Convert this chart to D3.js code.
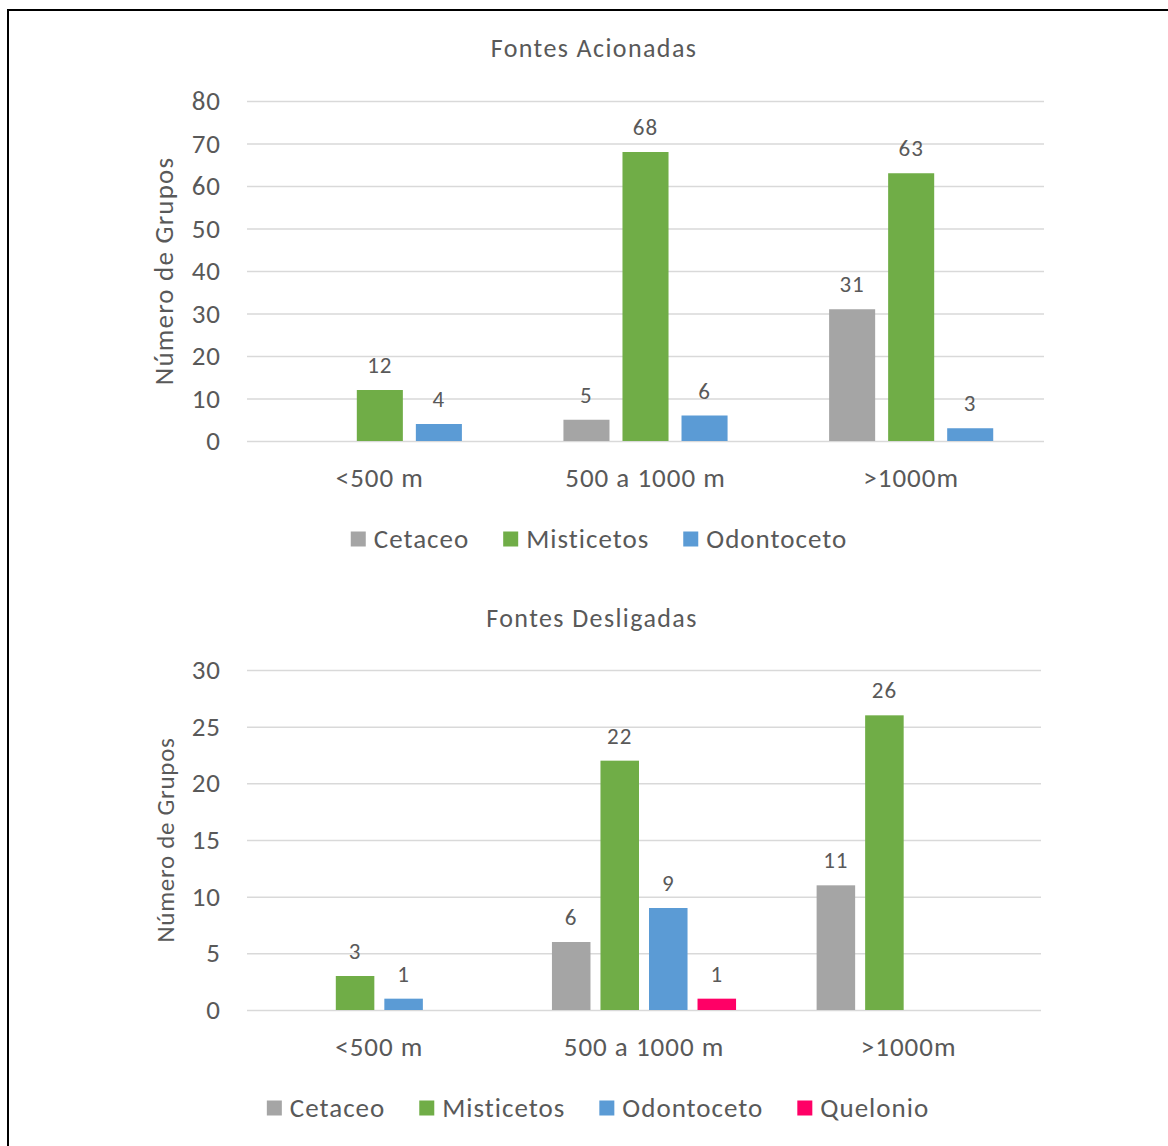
<!DOCTYPE html>
<html>
<head>
<meta charset="utf-8">
<script src="https://cdn.jsdelivr.net/npm/d3@7"></script>
<style>
  html, body { margin: 0; padding: 0; background: #fff; }
  svg text { font-family: Calibri, Carlito, Lato, sans-serif; fill: #595959; }
</style>
</head>
<body>
<svg id="chart" width="1168" height="1146"></svg>
<script>
// Distance classes shared by both panels
const categories = ["<500 m", "500 a 1000 m", ">1000m"];

// Panel 1: sources on
const seriesOn = ["Cetaceo", "Misticetos", "Odontoceto"];
const cetaceoOn = [0, 5, 31];
const misticetosOn = [12, 68, 63];
const odontocetoOn = [4, 6, 3];
const ticksOn = [0, 10, 20, 30, 40, 50, 60, 70, 80];

// Panel 2: sources off
const seriesOff = ["Cetaceo", "Misticetos", "Odontoceto", "Quelonio"];
const cetaceoOff = [0, 6, 11];
const misticetosOff = [3, 22, 26];
const odontocetoOff = [1, 9, 0];
const quelonioOff = [0, 1, 0];
const ticksOff = [0, 5, 10, 15, 20, 25, 30];

const colors = {
  "Cetaceo": "#A5A5A5",
  "Misticetos": "#70AD47",
  "Odontoceto": "#5B9BD5",
  "Quelonio": "#FF0066"
};

const FONT = "Calibri, Carlito, Lato, sans-serif";
const svg = d3.select("#chart");

// outer frame
svg.append("rect")
  .attr("x", 8).attr("y", 10)
  .attr("width", 1170).attr("height", 1150)
  .attr("fill", "none").attr("stroke", "#000").attr("stroke-width", 2);

function styleText(sel, size, spacing) {
  sel.attr("font-size", size)
    .attr("fill", "#595959")
    .style("font-family", FONT)
    .style("letter-spacing", spacing + "px");
}

function drawPanel(opt) {
  const g = svg.append("g");
  const x0 = d3.scaleBand().domain(categories).range([opt.left, opt.right]).padding(0);
  const x1 = d3.scaleBand().domain(opt.series)
    .range([0, x0.bandwidth()])
    .paddingInner(opt.barGap)
    .paddingOuter(opt.groupPad);
  const y = d3.scaleLinear().domain([0, d3.max(opt.ticks)]).range([opt.bottom, opt.top]);

  // title
  g.append("text")
    .attr("x", opt.titleX).attr("y", opt.titleY)
    .attr("text-anchor", "middle")
    .call(styleText, 26, 1.4)
    .text(opt.title);

  // gridlines
  g.append("g")
    .attr("transform", `translate(${opt.left},0)`)
    .call(d3.axisLeft(y).tickValues(opt.ticks).tickSize(-(opt.right - opt.left)).tickFormat(""))
    .call(a => a.select(".domain").remove())
    .call(a => a.selectAll("line").attr("stroke", "#D9D9D9").attr("stroke-width", 1.5));

  // y tick labels
  g.append("g")
    .attr("transform", `translate(${opt.left - 26},0)`)
    .call(d3.axisLeft(y).tickValues(opt.ticks).tickSize(0).tickPadding(0))
    .call(a => a.select(".domain").remove())
    .call(a => a.selectAll("text").call(styleText, 27, 1));

  // y axis title
  g.append("text")
    .attr("transform", `translate(${opt.yTitleX},${(opt.top + opt.bottom) / 2}) rotate(-90)`)
    .attr("text-anchor", "middle")
    .call(styleText, opt.yTitleSize, opt.yTitleSpacing)
    .text("Número de Grupos");

  // category labels
  g.append("g")
    .attr("transform", `translate(0,${opt.bottom + 43})`)
    .call(d3.axisBottom(x0).tickSize(0).tickPadding(0))
    .call(a => a.select(".domain").remove())
    .call(a => a.selectAll("text").call(styleText, 27, 1).attr("dy", "0.1em"));

  // bars
  const rows = categories.map((c, i) => ({
    cat: c,
    vals: opt.series.map((s, k) => ({ s, v: opt.values[k][i] }))
  }));
  const groups = g.selectAll(".grp").data(rows).join("g")
    .attr("transform", d => `translate(${x0(d.cat)},0)`);
  groups.selectAll("rect").data(d => d.vals.filter(e => e.v > 0)).join("rect")
    .attr("x", e => x1(e.s))
    .attr("width", x1.bandwidth())
    .attr("y", e => y(e.v))
    .attr("height", e => y(0) - y(e.v))
    .attr("fill", e => colors[e.s]);
  groups.selectAll("text.lbl").data(d => d.vals.filter(e => e.v > 0)).join("text")
    .attr("class", "lbl")
    .attr("x", e => x1(e.s) + x1.bandwidth() / 2)
    .attr("y", e => y(e.v) - 17)
    .attr("text-anchor", "middle")
    .call(styleText, 23, 1)
    .text(e => e.v);

  // legend
  const leg = g.append("g").attr("transform", `translate(0,${opt.legendY})`);
  const items = leg.selectAll("g").data(opt.series).join("g");
  items.append("rect")
    .attr("width", 15).attr("height", 15).attr("y", -7.5)
    .attr("fill", s => colors[s]);
  items.append("text")
    .attr("x", 23).attr("dy", "0.35em")
    .call(styleText, 27, 1)
    .text(s => s);
  const widths = [];
  items.each(function () {
    widths.push(23 + this.querySelector("text").getComputedTextLength());
  });
  const gap = 34;
  const total = d3.sum(widths) + gap * (widths.length - 1);
  let cx = opt.legendCenter - total / 2;
  items.attr("transform", (d, i) => {
    const t = `translate(${cx},0)`;
    cx += widths[i] + gap;
    return t;
  });
}

drawPanel({
  title: "Fontes Acionadas", titleX: 594, titleY: 57,
  series: seriesOn, values: [cetaceoOn, misticetosOn, odontocetoOn], ticks: ticksOn,
  left: 247, right: 1044, top: 101, bottom: 441,
  barGap: 0.22, groupPad: 0.86,
  yTitleX: 173, yTitleSize: 27, yTitleSpacing: 1.2,
  legendY: 539, legendCenter: 599
});

drawPanel({
  title: "Fontes Desligadas", titleX: 592, titleY: 627,
  series: seriesOff, values: [cetaceoOff, misticetosOff, odontocetoOff, quelonioOff], ticks: ticksOff,
  left: 247, right: 1041, top: 670, bottom: 1010,
  barGap: 0.206, groupPad: 0.83,
  yTitleX: 174, yTitleSize: 25, yTitleSpacing: 0.7,
  legendY: 1108, legendCenter: 598
});
</script>
</body>
</html>
